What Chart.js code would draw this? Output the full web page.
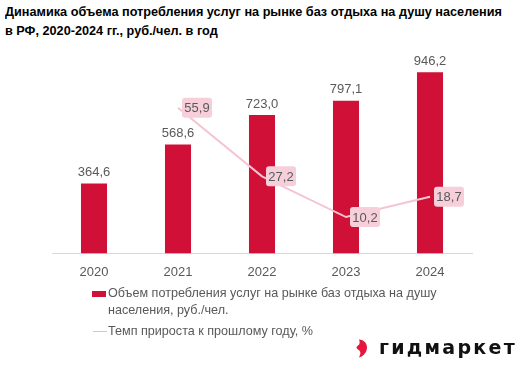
<!DOCTYPE html>
<html><head><meta charset="utf-8">
<script src="https://cdn.jsdelivr.net/npm/chart.js@4"></script>
<style>
body{margin:0;width:518px;height:366px;background:#fff;overflow:hidden;position:relative;font-family:"Liberation Sans",Arial,sans-serif}
#title{position:absolute;left:5px;top:2px;font-weight:bold;font-size:13.5px;line-height:19px;color:#000;white-space:nowrap;transform-origin:0 0}
canvas{position:absolute;left:0;top:0}
#legend{position:absolute;left:92px;top:285px;color:#595959;font-size:12.6px;line-height:17px}
.li{position:relative;padding-left:16px;white-space:nowrap}
.sq{position:absolute;left:0;top:6px;width:14px;height:6px;background:#d01037}
.ln{position:absolute;left:1px;top:8px;width:14px;height:1px;background:#f2b9cb}
#logo{position:absolute;left:356px;top:338px;height:22px}
#logo svg{position:absolute;left:0;top:1px}
#logo span{position:absolute;left:23px;top:-2px;font-family:"DejaVu Sans",sans-serif;font-weight:bold;font-size:19px;letter-spacing:2.3px;color:#111;white-space:nowrap}
</style></head>
<body>
<div id="title">Динамика объема потребления услуг на рынке баз отдыха на душу населения<br>в РФ, 2020-2024 гг., руб./чел. в год</div>
<canvas id="c" width="518" height="366"></canvas>
<div id="legend">
  <div class="li"><div class="sq"></div>Объем потребления услуг на рынке баз отдыха на душу<br>населения, руб./чел.</div>
  <div class="li" style="margin-top:4px"><div class="ln"></div>Темп прироста к прошлому году, %</div>
</div>
<div id="logo"><svg width="12" height="19" viewBox="0 0 12 18"><path d="M3 0 C7 0 11 3 11 8 C11 13 7 17 3 18 C5 14 5 12 2 10 C0 9 0 7 2 6 C4 5 4 2 3 0 Z" fill="#e5173f"/></svg><span>гидмаркет</span></div>
<script>
const categories = ['2020','2021','2022','2023','2024'];
const consumption = [364.6, 568.6, 723.0, 797.1, 946.2];
const growth = [null, 55.9, 27.2, 10.2, 18.7];

const fmt = v => v.toFixed(1).replace('.', ',');

// fit title width to reference
(function(){
  const t = document.getElementById('title');
  const w = t.getBoundingClientRect().width;
  t.style.transform = 'scaleX(' + (497 / w) + ')';
})();

const labelPlugin = {
  id: 'labels',
  afterDatasetsDraw(chart) {
    const ctx = chart.ctx;
    ctx.save();
    ctx.font = '13px "Liberation Sans", Arial, sans-serif';
    ctx.textAlign = 'center';
    ctx.textBaseline = 'middle';
    const bm = chart.getDatasetMeta(0);
    bm.data.forEach((el, i) => {
      ctx.fillStyle = '#595959';
      ctx.fillText(fmt(consumption[i]), el.x, el.y - 11);
    });
    const lm = chart.getDatasetMeta(1);
    lm.data.forEach((el, i) => {
      if (growth[i] == null) return;
      const x = el.x + 4, y = el.y - 10, w = 30, h = 20;
      ctx.fillStyle = '#f7cfdb';
      ctx.beginPath();
      ctx.roundRect(x, y, w, h, 3);
      ctx.fill();
      ctx.fillStyle = '#595959';
      ctx.fillText(fmt(growth[i]), x + w / 2, el.y + 1);
    });
    ctx.restore();
  }
};

new Chart(document.getElementById('c'), {
  data: {
    labels: categories,
    datasets: [
      { type: 'bar', data: consumption, backgroundColor: '#d01037', barPercentage: 0.31, categoryPercentage: 1, yAxisID: 'y', order: 1 },
      { type: 'line', data: growth, borderColor: '#f5c4d3', borderWidth: 2, pointRadius: 0, tension: 0, yAxisID: 'y2', order: 0 }
    ]
  },
  options: {
    responsive: false,
    animation: false,
    layout: { padding: { left: 52, right: 46, top: 62, bottom: 75 } },
    plugins: { legend: { display: false }, tooltip: { enabled: false } },
    scales: {
      x: { grid: { display: false, drawTicks: false }, border: { color: '#d9d9d9' },
           ticks: { color: '#595959', font: { size: 13, family: '"Liberation Sans", Arial, sans-serif' }, padding: 11 } },
      y: { display: false, min: 0, max: 1000 },
      y2: { display: false, min: -5, max: 75 }
    }
  },
  plugins: [labelPlugin]
});
</script>
</body></html>
